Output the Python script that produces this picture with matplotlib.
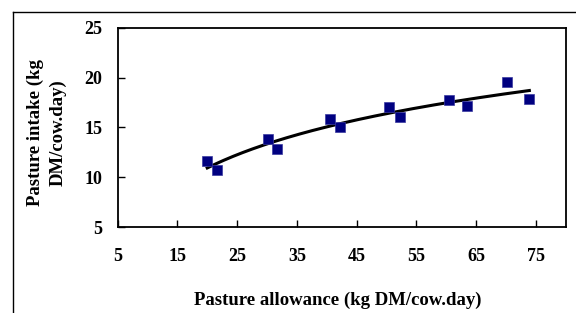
import numpy as np
import matplotlib
matplotlib.use("Agg")
import matplotlib.pyplot as plt
from matplotlib.lines import Line2D

allowance = [20.0, 21.6, 30.2, 31.7, 40.5, 42.2, 50.4, 52.2, 60.4, 63.5, 70.2, 73.9]
intake = [11.6, 10.7, 13.8, 12.85, 15.9, 15.0, 17.1, 16.05, 17.8, 17.15, 19.6, 17.9]
x_ticks = [5, 15, 25, 35, 45, 55, 65, 75]
y_ticks = [5, 10, 15, 20, 25]

plt.rcParams['font.family'] = ['Liberation Serif', 'DejaVu Serif']
plt.rcParams['font.weight'] = 'bold'

fig = plt.figure(figsize=(5.76, 3.13), dpi=100)
ax = fig.add_axes([117.6 / 576, 1 - 227 / 313, (565.8 - 117.6) / 576, (227 - 28) / 313])

x = np.array(allowance)
y = np.array(intake)
b, a = np.polyfit(np.log(x), y, 1)
xf = np.linspace(x.min(), x.max(), 200)
ax.plot(xf, a + b * np.log(xf), color='black', lw=2.2, zorder=2)
ax.plot(x, y, 's', color='#000080', ms=7, mec='#3a3aa0', mew=0.5, ls='none', zorder=3)

ax.set_xlim(5, 80)
ax.set_ylim(5, 25)
ax.set_xticks(x_ticks)
ax.set_yticks(y_ticks)
ax.tick_params(axis='x', direction='in', length=5, width=1, pad=15, labelsize=13)
ax.tick_params(axis='y', direction='in', length=5, width=1, pad=11, labelsize=13)
for lab in ax.get_xticklabels() + ax.get_yticklabels():
    lab.set_fontweight('bold')
for s in ax.spines.values():
    s.set_linewidth(1.3)

ax.set_xlabel('Pasture allowance (kg DM/cow.day)', fontsize=13.5, fontweight='bold')
ax.xaxis.set_label_coords(0.491, -0.325)
ax.set_ylabel('Pasture intake (kg\nDM/cow.day)', fontsize=13.5, fontweight='bold', linespacing=1.45)
ax.yaxis.set_label_coords(-0.113, 0.475)

# outer frame (top and left edges)
fig.add_artist(Line2D([13 / 576, 13 / 576], [0, 1 - 12 / 313], color='black', lw=1.0, transform=fig.transFigure))
fig.add_artist(Line2D([13 / 576, 1], [1 - 12 / 313, 1 - 12 / 313], color='black', lw=1.0, transform=fig.transFigure))

fig.savefig('out.png', dpi=100)
